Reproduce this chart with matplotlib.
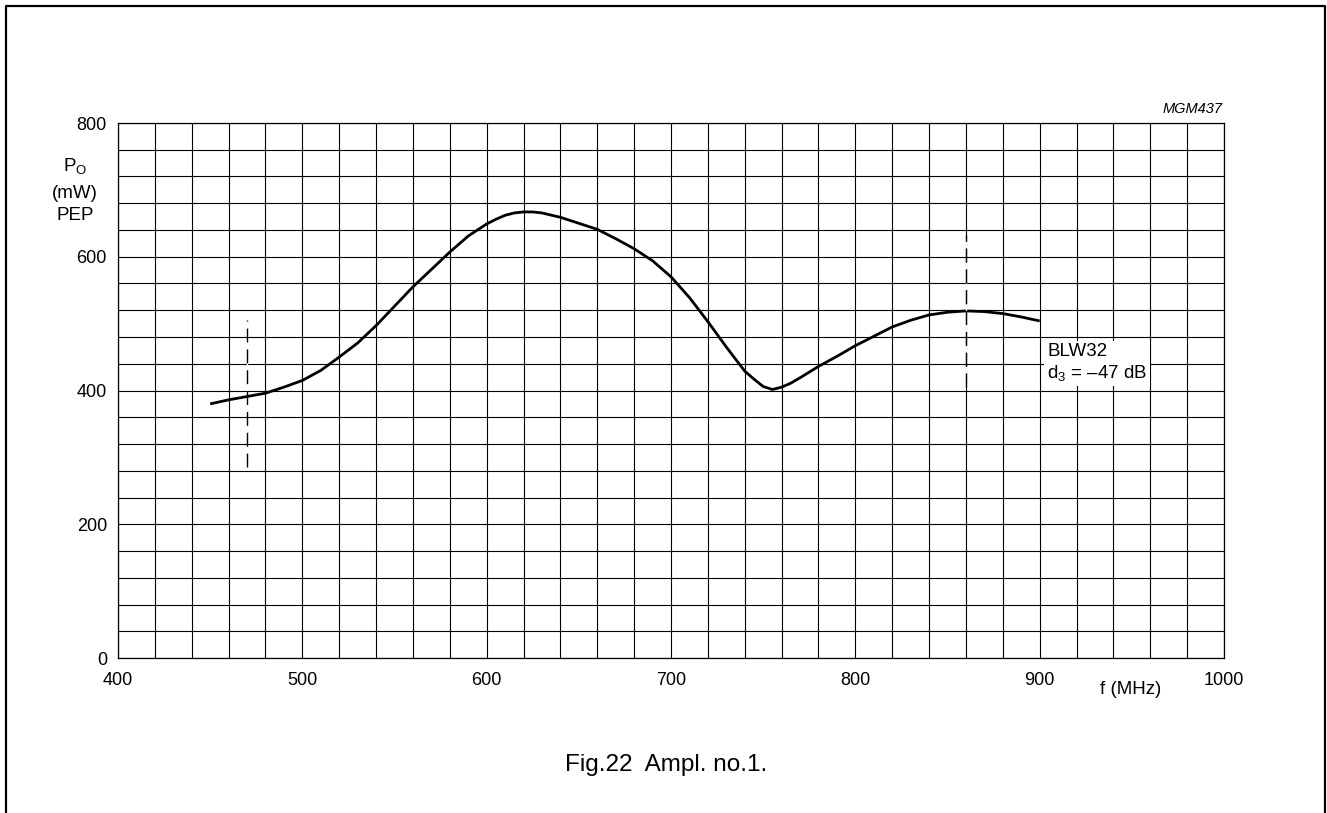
import matplotlib
matplotlib.use("Agg")
import matplotlib.pyplot as plt
from matplotlib.lines import Line2D
import numpy as np

plt.rcParams['font.family'] = ['Liberation Sans', 'DejaVu Sans']
plt.rcParams['mathtext.fontset'] = 'custom'
plt.rcParams['mathtext.rm'] = 'Liberation Sans'
plt.rcParams['mathtext.it'] = 'Liberation Sans:italic'
plt.rcParams['lines.scale_dashes'] = False

# ---- data ----
freq_mhz = [450, 460, 470, 480, 490, 500, 510, 520, 530, 540, 550, 560, 570, 580, 590,
            600, 605, 610, 615, 620, 625, 630, 640, 650, 660, 670, 680, 690, 700, 710,
            720, 730, 740, 745, 750, 755, 760, 765, 770, 780, 790, 800, 810, 820, 830,
            840, 850, 860, 870, 880, 890, 900]
power_mw = [380, 386, 391, 396, 405, 415, 430, 450, 471, 497, 526, 555, 581, 607, 631,
            649, 656, 662, 665.5, 667, 667, 665.5, 659, 650, 641, 627, 612, 594, 570, 539,
            503, 465, 429, 417, 406, 401.5, 405, 411, 419, 436, 451, 467, 481, 495, 505,
            513, 517, 519, 518, 515, 510, 504]

marker_freq = [470, 860]
marker_low = [285, 405]
marker_high = [505, 632]

xticks = [400, 500, 600, 700, 800, 900, 1000]
yticks = [0, 200, 400, 600, 800]

W, H = 1327, 813
fig = plt.figure(figsize=(W / 100, H / 100), dpi=100)
ax = fig.add_axes([118 / W, 1 - 658 / H, (1224 - 118) / W, (658 - 123) / H])

ax.set_xlim(400, 1000)
ax.set_ylim(0, 800)
ax.set_xticks(xticks)
ax.set_yticks(yticks)
ax.set_xticks(np.arange(400, 1001, 20), minor=True)
ax.set_yticks(np.arange(0, 801, 40), minor=True)
ax.grid(which='both', color='black', linewidth=0.8)
ax.set_axisbelow(True)
ax.tick_params(which='both', length=0)
ax.tick_params(axis='x', pad=10, labelsize=13)
ax.tick_params(axis='y', pad=8, labelsize=13)
for s in ax.spines.values():
    s.set_linewidth(0.9)

ax.plot(freq_mhz, power_mw, color='black', linewidth=2.0, solid_capstyle='butt',
        solid_joinstyle='round', zorder=3)

for f, lo, hi in zip(marker_freq, marker_low, marker_high):
    ax.plot([f, f], [lo, hi], color='black', linewidth=1.0, dashes=(10, 5),
            gapcolor='white', zorder=3)

# annotations
ax.text(904, 471, 'BLW32\nd$_\\mathrm{3}$ = \u201347 dB', fontsize=13.5, ha='left',
        va='top', linespacing=1.2,
        bbox=dict(boxstyle='square,pad=0.15', fc='white', ec='none'), zorder=4)

fig.text(1223 / W, 1 - 113 / H, 'MGM437', fontsize=10.5, style='italic', ha='right',
         va='baseline')
fig.text(75 / W, 1 - 166 / H, 'P$_\\mathrm{O}$', fontsize=13.5, ha='center', va='center')
fig.text(75 / W, 1 - 194 / H, '(mW)', fontsize=13.5, ha='center', va='center')
fig.text(75 / W, 1 - 216 / H, 'PEP', fontsize=13.5, ha='center', va='center')
fig.text(1131 / W, 1 - 689 / H, 'f (MHz)', fontsize=13.5, ha='center', va='center')
fig.text(666 / W, 1 - 765 / H, 'Fig.22  Ampl. no.1.', fontsize=17.5, ha='center',
         va='center')

# page border (open at bottom)
bx0, bx1, by = 5.5 / W, 1325 / W, 1 - 6.5 / H
fig.add_artist(Line2D([bx0, bx0, bx1, bx1], [0, by, by, 0], transform=fig.transFigure,
                      color='black', linewidth=1.6))

fig.savefig('out.png', dpi=100)
